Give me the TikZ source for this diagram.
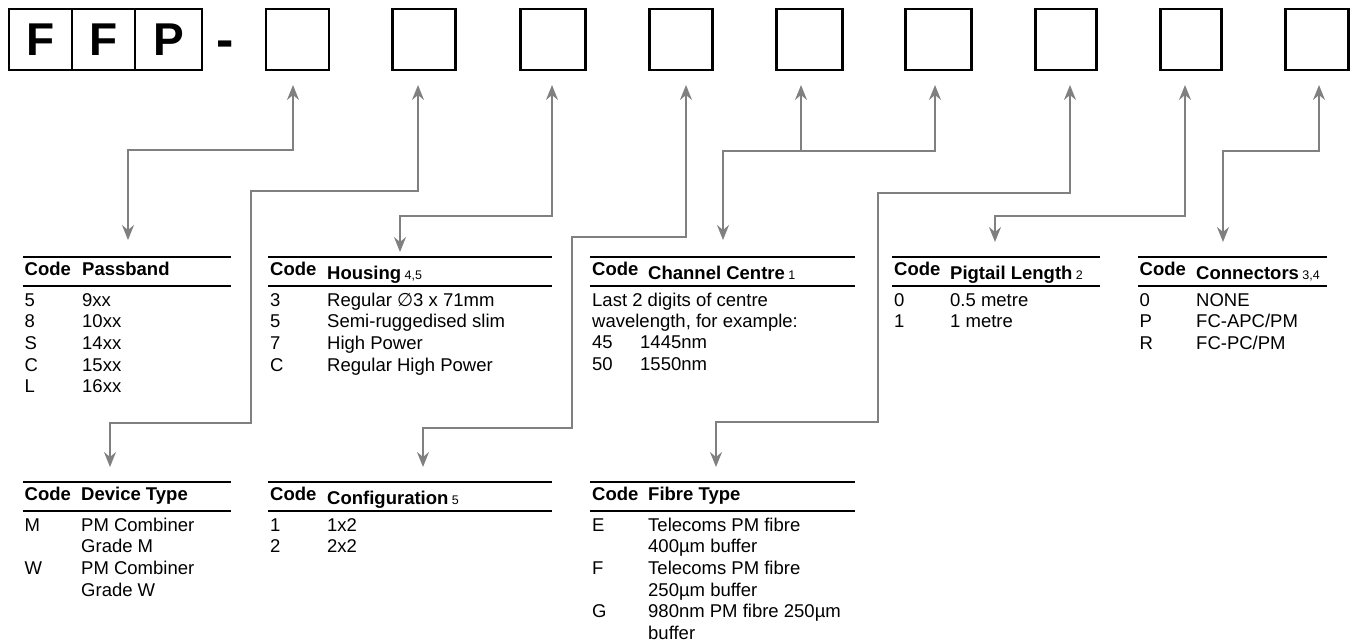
\documentclass[tikz,border=0pt]{standalone}
\usepackage{fontspec}
\setmainfont{Liberation Sans}
\newfontfamily\dejavu{DejaVu Sans}
\usetikzlibrary{arrows.meta}
\definecolor{conn}{RGB}{128,128,128}
\newcommand{\bodyfs}{\fontsize{18.5}{22}\selectfont}
\newcommand{\subfs}{\mdseries\fontsize{12.5}{14}\selectfont}
\tikzset{
  cell/.style={draw=black, line width=2.4pt, minimum height=61pt, inner sep=0pt,
    font=\bfseries\fontsize{46}{50}\selectfont},
  cbox/.style={draw=black, line width=2.4pt, minimum width=63pt, minimum height=61pt, inner sep=0pt},
  txt/.style={anchor=base west, inner sep=0pt, font=\bodyfs},
  hdr/.style={anchor=base west, inner sep=0pt, font=\bfseries\bodyfs},
  rule/.style={line width=2.2pt, black},
  cn/.style={draw=conn, line width=1.4pt},
  cna/.style={cn, {Stealth[length=15pt,width=12pt,inset=5pt]}-{Stealth[length=15pt,width=12pt,inset=5pt]}},
  cnb/.style={cn, {Stealth[length=15pt,width=12pt,inset=5pt]}-},
}
\begin{document}
\begin{tikzpicture}[x=1pt,y=-1pt]
\useasboundingbox (0,0) rectangle (1355,641);

% ---- code boxes ----
\node[cell, minimum width=62.8pt] (f1) at (40.6,39.5) {F};
\node[cell, minimum width=63pt]   (f2) at (103.5,39.5) {F};
\node[cell, minimum width=66.8pt] (f3) at (168.4,39.5) {P};
\node[anchor=base, inner sep=0pt, font=\bfseries\fontsize{52}{56}\selectfont] (dash) at (225.5,57) {-};
\node[cbox] (b1) at (297.5,39.5) {};
\node[cbox] (b2) at (424,39.5) {};
\node[cbox, minimum width=65pt] (b3) at (553,39.5) {};
\node[cbox] (b4) at (681,39.5) {};
\node[cbox, minimum width=66pt] (b5) at (809.5,39.5) {};
\node[cbox, minimum width=66pt] (b6) at (938.5,39.5) {};
\node[cbox, minimum width=61pt] (b7) at (1066,39.5) {};
\node[cbox, minimum width=61pt] (b8) at (1191,39.5) {};
\node[cbox] (b9) at (1317,39.5) {};

% ---- connector end points ----
\coordinate (u1) at (293,85);   \coordinate (d1) at (128,240);  \coordinate (h1) at (0,150);
\coordinate (u2) at (418,85);   \coordinate (k2a) at (251,191); \coordinate (k2b) at (251,423); \coordinate (d2) at (110,467);
\coordinate (u3) at (552,85);   \coordinate (d3) at (400,252);  \coordinate (h3) at (0,216);
\coordinate (u4) at (686,85);   \coordinate (k4a) at (572,237); \coordinate (k4b) at (572,428); \coordinate (d4) at (423,467);
\coordinate (u5) at (801,85);   \coordinate (u6) at (935,85);   \coordinate (d5) at (723,240); \coordinate (h5) at (0,151);
\coordinate (u7) at (1070,85);  \coordinate (k7a) at (878,193); \coordinate (k7b) at (878,422); \coordinate (d7) at (716,467);
\coordinate (u8) at (1185,85);  \coordinate (d8) at (995,242);  \coordinate (h8) at (0,216);
\coordinate (u9) at (1319,85);  \coordinate (d9) at (1223,242); \coordinate (h9) at (0,151);

\draw[cna] (u1) -- (u1 |- h1) -- (d1 |- h1) -- (d1);
\draw[cna] (u2) -- (u2 |- k2a) -- (k2a) -- (k2b) -- (k2b -| d2) -- (d2);
\draw[cna] (u3) -- (u3 |- h3) -- (d3 |- h3) -- (d3);
\draw[cna] (u4) -- (u4 |- k4a) -- (k4a) -- (k4b) -- (k4b -| d4) -- (d4);
\draw[cna] (u6) -- (u6 |- h5) -- (d5 |- h5) -- (d5);
\draw[cnb] (u5) -- (u5 |- h5);
\draw[cna] (u7) -- (u7 |- k7a) -- (k7a) -- (k7b) -- (k7b -| d7) -- (d7);
\draw[cna] (u8) -- (u8 |- h8) -- (d8 |- h8) -- (d8);
\draw[cna] (u9) -- (u9 |- h9) -- (d9 |- h9) -- (d9);

% ---- Passband ----
\draw[rule] (23,257) -- (231,257);
\draw[rule] (23,286) -- (231,286);
\node[hdr] (pbc) at (24.5,275.5) {Code};
\node[hdr] (pbt) at (82,275.5) {Passband};
\node[txt] (pb1a) at (24.5,306) {5}; \node[txt] (pb1b) at (82,306) {9xx};
\node[txt] (pb2a) at (24.5,327.7) {8}; \node[txt] (pb2b) at (82,327.7) {10xx};
\node[txt] (pb3a) at (24.5,349.4) {S}; \node[txt] (pb3b) at (82,349.4) {14xx};
\node[txt] (pb4a) at (24.5,371.1) {C}; \node[txt] (pb4b) at (82,371.1) {15xx};
\node[txt] (pb5a) at (24.5,392.8) {L}; \node[txt] (pb5b) at (82,392.8) {16xx};

% ---- Housing ----
\draw[rule] (268,257) -- (552,257);
\draw[rule] (268,286) -- (552,286);
\node[hdr] (hoc) at (270,275.5) {Code};
\node[hdr] (hot) at (327,279.5) {Housing{\subfs\ 4,5}};
\node[txt] (ho1a) at (270,306) {3}; \node[txt] (ho1b) at (327,306) {Regular {\dejavu ∅}3 x 71mm};
\node[txt] (ho2a) at (270,327.7) {5}; \node[txt] (ho2b) at (327,327.7) {Semi-ruggedised slim};
\node[txt] (ho3a) at (270,349.4) {7}; \node[txt] (ho3b) at (327,349.4) {High Power};
\node[txt] (ho4a) at (270,371.1) {C}; \node[txt] (ho4b) at (327,371.1) {Regular High Power};

% ---- Channel Centre ----
\draw[rule] (590,257) -- (855,257);
\draw[rule] (590,286) -- (855,286);
\node[hdr] (chc) at (592,275.5) {Code};
\node[hdr] (cht) at (648,279.5) {Channel Centre{\subfs\ 1}};
\node[txt] (ch1) at (592,306.5) {Last 2 digits of centre};
\node[txt] (ch2) at (592,327.5) {wavelength, for example:};
\node[txt] (ch3a) at (592,348.5) {45}; \node[txt] (ch3b) at (640,348.5) {1445nm};
\node[txt] (ch4a) at (592,370) {50}; \node[txt] (ch4b) at (640,370) {1550nm};

% ---- Pigtail Length ----
\draw[rule] (892,257) -- (1100,257);
\draw[rule] (892,286) -- (1100,286);
\node[hdr] (plc) at (894,275.5) {Code};
\node[hdr] (plt) at (950,279.5) {Pigtail Length{\subfs\ 2}};
\node[txt] (pl1a) at (894,306) {0}; \node[txt] (pl1b) at (950,306) {0.5 metre};
\node[txt] (pl2a) at (894,327.7) {1}; \node[txt] (pl2b) at (950,327.7) {1 metre};

% ---- Connectors ----
\draw[rule] (1138,257) -- (1327,257);
\draw[rule] (1138,286) -- (1327,286);
\node[hdr] (coc) at (1139.5,275.5) {Code};
\node[hdr] (cot) at (1196,279.5) {Connectors{\subfs\ 3,4}};
\node[txt] (co1a) at (1139.5,306) {0}; \node[txt] (co1b) at (1196,306) {NONE};
\node[txt] (co2a) at (1139.5,327.7) {P}; \node[txt] (co2b) at (1196,327.7) {FC-APC/PM};
\node[txt] (co3a) at (1139.5,349.4) {R}; \node[txt] (co3b) at (1196,349.4) {FC-PC/PM};

% ---- Device Type ----
\draw[rule] (23,482) -- (231,482);
\draw[rule] (23,511) -- (231,511);
\node[hdr] (dtc) at (24.5,500.5) {Code};
\node[hdr] (dtt) at (81,500.5) {Device Type};
\node[txt] (dt1a) at (24.5,531) {M}; \node[txt] (dt1b) at (81,531) {PM Combiner};
\node[txt] (dt2b) at (81,552.7) {Grade M};
\node[txt] (dt3a) at (24.5,574.4) {W}; \node[txt] (dt3b) at (81,574.4) {PM Combiner};
\node[txt] (dt4b) at (81,596.1) {Grade W};

% ---- Configuration ----
\draw[rule] (268,482) -- (552,482);
\draw[rule] (268,511) -- (552,511);
\node[hdr] (cfc) at (270,500.5) {Code};
\node[hdr] (cft) at (327,504.5) {Configuration{\subfs\ 5}};
\node[txt] (cf1a) at (270,531) {1}; \node[txt] (cf1b) at (327,531) {1x2};
\node[txt] (cf2a) at (270,552.7) {2}; \node[txt] (cf2b) at (327,552.7) {2x2};

% ---- Fibre Type ----
\draw[rule] (590,482) -- (855,482);
\draw[rule] (590,511) -- (855,511);
\node[hdr] (ftc) at (592,500.5) {Code};
\node[hdr] (ftt) at (648,500.5) {Fibre Type};
\node[txt] (ft1a) at (592,531) {E}; \node[txt] (ft1b) at (648,531) {Telecoms PM fibre};
\node[txt] (ft2b) at (648,552.7) {400µm buffer};
\node[txt] (ft3a) at (592,574.4) {F}; \node[txt] (ft3b) at (648,574.4) {Telecoms PM fibre};
\node[txt] (ft4b) at (648,596.1) {250µm buffer};
\node[txt] (ft5a) at (592,617.8) {G}; \node[txt] (ft5b) at (648,617.8) {980nm PM fibre 250µm};
\node[txt] (ft6b) at (648,639.3) {buffer};
\end{tikzpicture}
\end{document}
